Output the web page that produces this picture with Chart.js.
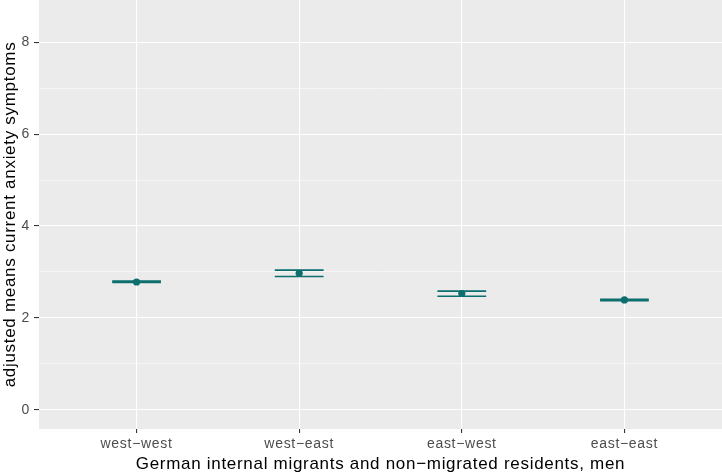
<!DOCTYPE html>
<html>
<head>
<meta charset="utf-8">
<script src="https://cdn.jsdelivr.net/npm/chart.js@4/dist/chart.umd.min.js"></script>
<style>
  html, body { margin: 0; padding: 0; background: #fff; }
  #wrap { width: 722px; height: 475px; }
</style>
</head>
<body>
<div id="wrap"><canvas id="chart" width="722" height="475"></canvas></div>
<script>
// groups on the x axis
const categories = ['west\u2212west', 'west\u2212east', 'east\u2212west', 'east\u2212east'];
// adjusted means and their error bar ends
const means = [2.78, 2.97, 2.53, 2.39];
const lower = [2.77, 2.90, 2.47, 2.375];
const upper = [2.80, 3.04, 2.58, 2.405];
// y ticks (labels only on the even ones, odd ones are minor grid lines)
const yTicks = [0, 1, 2, 3, 4, 5, 6, 7, 8];

const TEAL = '#0d6e6e';
const FONT = "'Liberation Sans', Arial, Helvetica, sans-serif";

// the reference text is set a bit wider than Liberation Sans
const spacing = {
  id: 'spacing',
  beforeLayout(chart) { chart.ctx.letterSpacing = '0.7px'; },
  beforeDraw(chart) { chart.ctx.letterSpacing = '0.7px'; }
};

// grey ggplot panel behind the grid
const panelBg = {
  id: 'panelBg',
  beforeDraw(chart) {
    const { ctx, chartArea: a } = chart;
    ctx.save();
    ctx.fillStyle = '#ebebeb';
    ctx.fillRect(a.left, a.top, a.right - a.left, a.bottom - a.top);
    ctx.restore();
  }
};

// error bars, positioned through the chart scales
const errorBars = {
  id: 'errorBars',
  beforeDatasetsDraw(chart) {
    const { ctx } = chart;
    const xs = chart.scales.x, ys = chart.scales.y;
    ctx.save();
    ctx.strokeStyle = TEAL;
    ctx.lineWidth = 1.7;
    means.forEach((m, i) => {
      const x0 = xs.getPixelForValue(i + 1 - 0.15);
      const x1 = xs.getPixelForValue(i + 1 + 0.15);
      const xc = xs.getPixelForValue(i + 1);
      const yl = ys.getPixelForValue(lower[i]);
      const yu = ys.getPixelForValue(upper[i]);
      ctx.beginPath();
      ctx.moveTo(x0, yl); ctx.lineTo(x1, yl);
      ctx.moveTo(x0, yu); ctx.lineTo(x1, yu);
      ctx.moveTo(xc, yl); ctx.lineTo(xc, yu);
      ctx.stroke();
    });
    ctx.restore();
  }
};

new Chart(document.getElementById('chart'), {
  type: 'scatter',
  data: {
    datasets: [{
      data: means.map((m, i) => ({ x: i + 1, y: m })),
      backgroundColor: TEAL,
      borderColor: TEAL,
      pointRadius: 3.6,
      borderWidth: 0
    }]
  },
  options: {
    responsive: false,
    animation: false,
    layout: { padding: 0, autoPadding: false },
    plugins: { legend: { display: false }, tooltip: { enabled: false } },
    scales: {
      x: {
        type: 'linear',
        min: 0.4, max: 4.6,
        afterBuildTicks: s => { s.ticks = categories.map((c, i) => ({ value: i + 1 })); },
        afterFit: s => { s.height = 46; s.paddingLeft = 0; s.paddingRight = 0; },
        grid: { color: '#ffffff', lineWidth: 1.1, tickColor: '#333333', tickLength: 4 },
        border: { display: false },
        ticks: {
          callback: v => categories[v - 1],
          color: '#4d4d4d', font: { family: FONT, size: 14 }, padding: 3, maxRotation: 0
        },
        title: {
          display: true,
          text: 'German internal migrants and non\u2212migrated residents, men',
          color: '#000', font: { family: FONT, size: 17 }, padding: { top: 1, bottom: 0 }
        }
      },
      y: {
        min: -0.42, max: 8.92,
        afterBuildTicks: s => { s.ticks = yTicks.map(v => ({ value: v })); },
        afterFit: s => { s.width = 39; s.paddingTop = 0; s.paddingBottom = 0; },
        grid: {
          color: '#ffffff',
          lineWidth: c => (c.tick && c.tick.value % 2 === 0) ? 1.1 : 0.55,
          tickColor: c => (c.tick && c.tick.value % 2 === 0) ? '#333333' : 'rgba(0,0,0,0)',
          tickLength: 5
        },
        border: { display: false },
        ticks: {
          callback: v => (v % 2 === 0 ? String(v) : ''),
          color: '#4d4d4d', font: { family: FONT, size: 14 }, padding: 4
        },
        title: {
          display: true,
          text: 'adjusted means current anxiety symptoms',
          color: '#000', font: { family: FONT, size: 17 }, padding: { top: 0, bottom: 0 }
        }
      }
    }
  },
  plugins: [spacing, panelBg, errorBars]
});
</script>
</body>
</html>
